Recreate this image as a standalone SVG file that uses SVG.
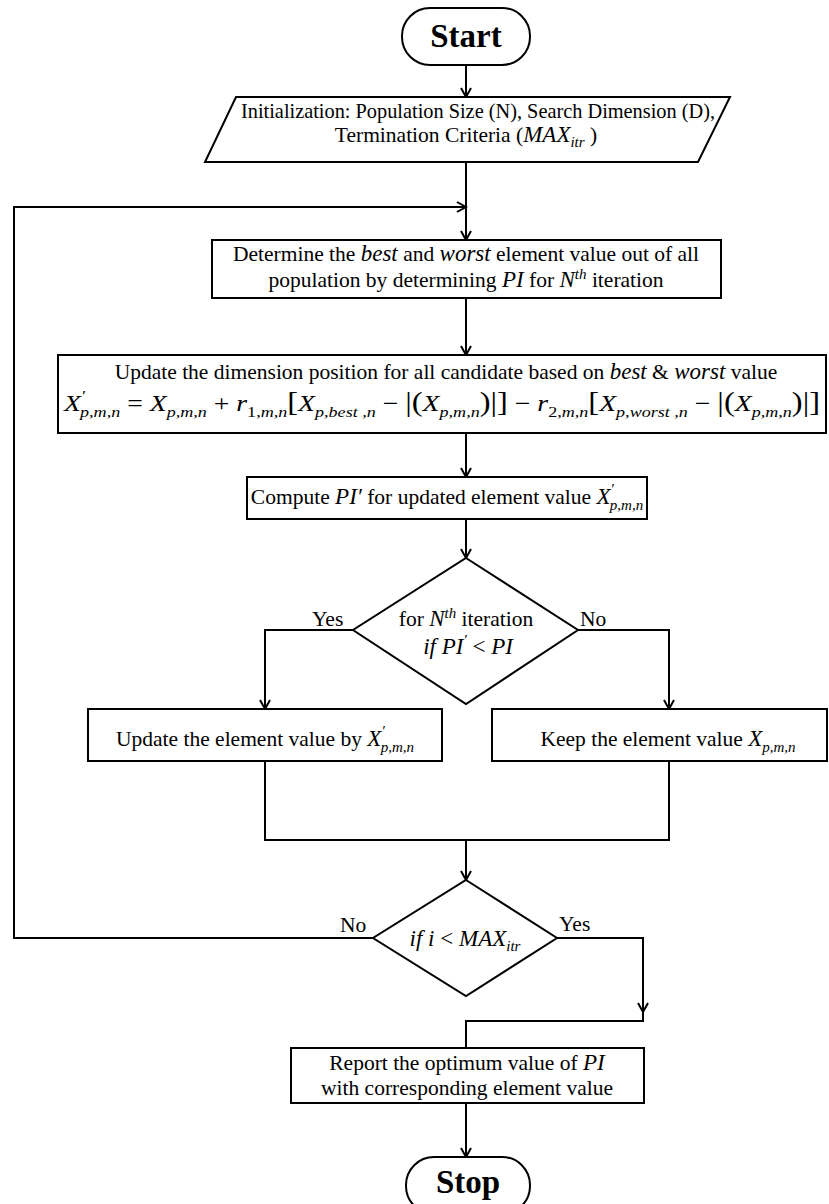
<svg xmlns="http://www.w3.org/2000/svg" width="829" height="1204" viewBox="0 0 829 1204">
<defs>
<style>
.t{font-family:"Liberation Serif","Times New Roman",serif;font-size:21.5px;fill:#000}
.i{font-style:italic;font-size:23px}
.n{font-style:normal}
.sb{font-size:15px}
.big{font-size:27px;font-style:normal}
.b{font-family:"Liberation Serif","Times New Roman",serif;font-weight:bold;font-size:33px;fill:#000}
.s{fill:#fff;stroke:#000;stroke-width:2}
.c{fill:none;stroke:#000;stroke-width:2}
</style>
<marker id="ah" markerWidth="12" markerHeight="12" refX="10" refY="6" orient="auto" markerUnits="userSpaceOnUse"><path d="M1,1 L10,6 L1,11" fill="none" stroke="#000" stroke-width="2"/></marker>
</defs>
<rect width="829" height="1204" fill="#fff"/>
<g id="connectors">
<path class="c" d="M466,65 V97" marker-end="url(#ah)"/>
<path class="c" d="M466,162 V240" marker-end="url(#ah)"/>
<path class="c" d="M373,938 H14 V207 H466" marker-end="url(#ah)"/>
<path class="c" d="M466,298 V355" marker-end="url(#ah)"/>
<path class="c" d="M466,433 V477" marker-end="url(#ah)"/>
<path class="c" d="M466,519 V558" marker-end="url(#ah)"/>
<path class="c" d="M353,630 H265 V709" marker-end="url(#ah)"/>
<path class="c" d="M578,630 H669 V709" marker-end="url(#ah)"/>
<path class="c" d="M265,761 V840 H669 V761"/>
<path class="c" d="M466,840 V880" marker-end="url(#ah)"/>
<path class="c" d="M557,938 H643 V1012" marker-end="url(#ah)"/>
<path class="c" d="M643,1010 V1021 H466 V1048"/>
<path class="c" d="M466,1103 V1157" marker-end="url(#ah)"/>
<text class="t" x="312" y="626">Yes</text>
<text class="t" x="580" y="626">No</text>
<text class="t" x="340" y="932">No</text>
<text class="t" x="559" y="931">Yes</text>
</g>
<g id="start">
<rect class="s" x="402" y="8" width="128" height="57" rx="28"/>
<text class="b" x="466" y="47" text-anchor="middle">Start</text>
</g>
<g id="init">
<polygon class="s" points="236,97 730,97 698,162 205,162"/>
<text class="t" x="241" y="118" font-size="20.5" textLength="474" lengthAdjust="spacingAndGlyphs">Initialization: Population Size (N), Search Dimension (D),</text>
<text class="t" x="466" y="142" text-anchor="middle">Termination Criteria (<tspan class="i">MAX</tspan><tspan class="i sb" dy="5">itr</tspan><tspan dy="-5"> )</tspan></text>
</g>
<g id="determine">
<rect class="s" x="212" y="240" width="509" height="58"/>
<text class="t" x="466" y="261" text-anchor="middle">Determine the <tspan class="i">best</tspan> and <tspan class="i">worst</tspan> element value out of all</text>
<text class="t" x="466" y="287" text-anchor="middle">population by determining <tspan class="i">PI</tspan> for <tspan class="i">N</tspan><tspan class="i sb" dy="-8">th</tspan><tspan dy="8"> iteration</tspan></text>
</g>
<g id="update">
<rect class="s" x="58" y="355" width="768" height="78"/>
<text class="t" x="446" y="379" text-anchor="middle">Update the dimension position for all candidate based on <tspan class="i">best</tspan> &amp; <tspan class="i">worst</tspan> value</text>
<text class="t i" x="64" y="411" textLength="756" lengthAdjust="spacingAndGlyphs">X<tspan class="sb" dy="-10">′</tspan><tspan class="sb" dx="-4" dy="16">p,m,n</tspan><tspan class="n" dy="-6"> = </tspan><tspan>X</tspan><tspan class="sb" dy="6">p,m,n</tspan><tspan class="n" dy="-6"> + </tspan><tspan>r</tspan><tspan class="sb n" dy="6">1,</tspan><tspan class="sb">m,n</tspan><tspan class="big" dy="-6">[</tspan><tspan>X</tspan><tspan class="sb" dy="6">p,best ,n</tspan><tspan class="n" dy="-6"> − </tspan><tspan class="big">|(</tspan><tspan>X</tspan><tspan class="sb" dy="6">p,m,n</tspan><tspan class="big" dy="-6">)|]</tspan><tspan class="n"> − </tspan><tspan>r</tspan><tspan class="sb n" dy="6">2,</tspan><tspan class="sb">m,n</tspan><tspan class="big" dy="-6">[</tspan><tspan>X</tspan><tspan class="sb" dy="6">p,worst ,n</tspan><tspan class="n" dy="-6"> − </tspan><tspan class="big">|(</tspan><tspan>X</tspan><tspan class="sb" dy="6">p,m,n</tspan><tspan class="big" dy="-6">)|]</tspan></text>
</g>
<g id="compute">
<rect class="s" x="247" y="477" width="400" height="42"/>
<text class="t" x="447" y="504" text-anchor="middle">Compute <tspan class="i">PI′</tspan> for updated element value <tspan class="i">X</tspan><tspan class="i sb" dy="-10">′</tspan><tspan class="i sb" dx="-4" dy="16">p,m,n</tspan></text>
</g>
<g id="decision1">
<polygon class="s" points="466,558 578,630 466,704 353,630"/>
<text class="t" x="466" y="626" text-anchor="middle">for <tspan class="i">N</tspan><tspan class="i sb" dy="-8">th</tspan><tspan dy="8"> iteration</tspan></text>
<text class="t i" x="468" y="654" text-anchor="middle">if PI<tspan class="sb" dy="-9">′</tspan><tspan class="n" dy="9"> &lt; </tspan><tspan>PI</tspan></text>
</g>
<g id="replace">
<rect class="s" x="88" y="709" width="354" height="52"/>
<text class="t" x="265" y="746" text-anchor="middle">Update the element value by <tspan class="i">X</tspan><tspan class="i sb" dy="-10">′</tspan><tspan class="i sb" dx="-4" dy="16">p,m,n</tspan></text>
</g>
<g id="keep">
<rect class="s" x="492" y="709" width="335" height="52"/>
<text class="t" x="668" y="746" text-anchor="middle">Keep the element value <tspan class="i">X</tspan><tspan class="i sb" dy="6">p,m,n</tspan></text>
</g>
<g id="decision2">
<polygon class="s" points="466,880 557,938 466,996 373,938"/>
<text class="t i" x="465" y="946" text-anchor="middle">if i <tspan class="n">&lt;</tspan> MAX<tspan class="sb" dy="5">itr</tspan></text>
</g>
<g id="report">
<rect class="s" x="291" y="1048" width="353" height="55"/>
<text class="t" x="467" y="1070" text-anchor="middle">Report the optimum value of <tspan class="i">PI</tspan></text>
<text class="t" x="467" y="1095" text-anchor="middle">with corresponding element value</text>
</g>
<g id="stop">
<rect class="s" x="406" y="1157" width="124" height="57" rx="28"/>
<text class="b" x="468" y="1193" text-anchor="middle">Stop</text>
</g>
</svg>
